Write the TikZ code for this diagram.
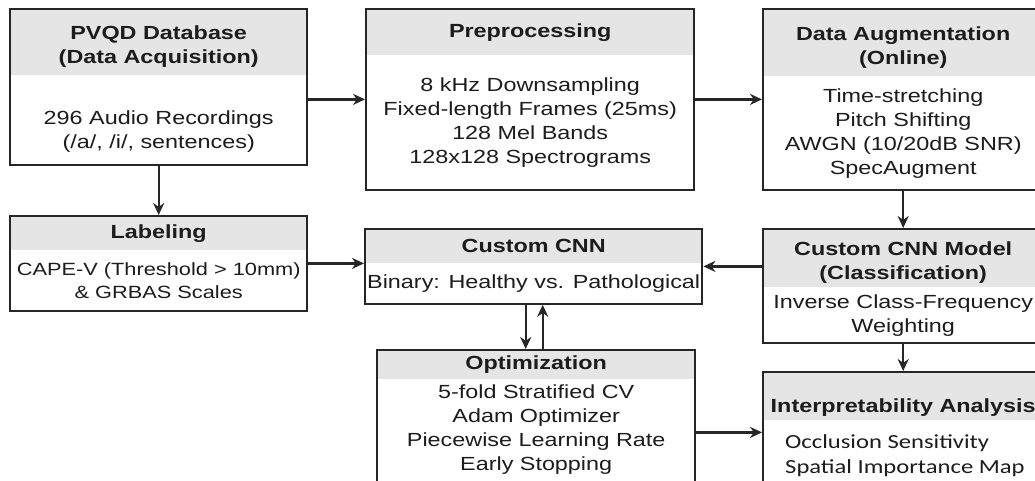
\documentclass[tikz,border=0pt]{standalone}
\usepackage{fontspec}
\setmainfont{Liberation Sans}[FakeStretch=1.23]
\newfontfamily\calfont{Carlito}[FakeStretch=1.23]
\usepackage{tikz}
\usetikzlibrary{arrows.meta,positioning,fit}
\definecolor{hdrgray}{RGB}{229,229,229}
\definecolor{edge}{RGB}{38,38,38}
\definecolor{ink}{RGB}{28,28,28}
\tikzset{
    hdr/.style={rectangle, fill=hdrgray, inner sep=0pt, anchor=north west,
                align=center, text=ink, font=\fontsize{19}{24}\selectfont\bfseries},
    bdy/.style={rectangle, fill=white, inner sep=0pt, align=center, text=ink,
                font=\fontsize{19}{24}\selectfont},
    frm/.style={rectangle, draw=edge, line width=2pt, inner sep=0pt},
    arr/.style={-{Stealth[length=12pt,width=11pt]}, line width=2.4pt, draw=edge},
}

\begin{document}
\begin{tikzpicture}[x=1pt, y=1pt]
    \useasboundingbox (0,0) rectangle (1035,480);
    \clip (0,0) rectangle (1035,480);
    \fill[white] (0,0) rectangle (1035,480);

    % top row
    \node[hdr, minimum width=297pt, minimum height=66pt, text height=47pt] (pvqd-h) at (10,471)
        {PVQD Database\\(Data Acquisition)};
    \node[bdy, minimum width=297pt, minimum height=89pt, text height=60pt,
          below=0pt of pvqd-h] (pvqd-b) {296 Audio Recordings\\(/a/, /i/, sentences)};
    \node[frm, fit=(pvqd-h)(pvqd-b)] (pvqd) {};

    \node[hdr, minimum width=328pt, minimum height=46pt] (prep-h) at (366,471) {Preprocessing};
    \node[bdy, minimum width=328pt, minimum height=134pt, below=0pt of prep-h] (prep-b)
        {8 kHz Downsampling\\Fixed-length Frames (25ms)\\128 Mel Bands\\128x128 Spectrograms};
    \node[frm, fit=(prep-h)(prep-b)] (prep) {};

    \node[hdr, minimum width=280pt, minimum height=67pt, text height=47pt] (aug-h) at (763,471)
        {Data Augmentation\\(Online)};
    \node[bdy, minimum width=280pt, minimum height=113pt, below=0pt of aug-h] (aug-b)
        {Time-stretching\\Pitch Shifting\\AWGN (10/20dB SNR)\\SpecAugment};
    \node[frm, fit=(aug-h)(aug-b)] (aug) {};

    % middle row
    \node[hdr, minimum width=297pt, minimum height=34pt] (lab-h) at (10,264) {Labeling};
    \node[bdy, minimum width=297pt, minimum height=60pt, font=\fontsize{17.7}{23}\selectfont,
          below=0pt of lab-h] (lab-b)
        {CAPE-V (Threshold > 10mm)\\\& GRBAS Scales};
    \node[frm, fit=(lab-h)(lab-b)] (lab) {};

    \node[hdr, minimum width=337pt, minimum height=34pt] (cnn-h) at (365,251) {Custom CNN};
    \node[bdy, minimum width=337pt, minimum height=40pt, below=0pt of cnn-h] (cnn-b)
        {Binary: Healthy vs. Pathological};
    \node[frm, fit=(cnn-h)(cnn-b)] (cnn) {};

    \node[hdr, minimum width=280pt, minimum height=58pt, text height=47pt] (mdl-h) at (763,251)
        {Custom CNN Model\\(Classification)};
    \node[bdy, minimum width=280pt, minimum height=55pt, below=0pt of mdl-h] (mdl-b)
        {Inverse Class-Frequency\\Weighting};
    \node[frm, fit=(mdl-h)(mdl-b)] (mdl) {};

    % bottom row
    \node[hdr, minimum width=318pt, minimum height=29pt] (opt-h) at (377,130) {Optimization};
    \node[bdy, minimum width=318pt, text height=91pt, text depth=25pt, below=0pt of opt-h] (opt-b)
        {5-fold Stratified CV\\Adam Optimizer\\Piecewise Learning Rate\\Early Stopping};
    \node[frm, fit=(opt-h)(opt-b)] (opt) {};

    \node[hdr, minimum width=280pt, minimum height=48pt, text height=36pt] (int-h) at (763,108)
        {Interpretability Analysis};
    \node[bdy, minimum width=280pt, align=left, inner xsep=22pt, text height=53pt, text depth=19pt,
          font=\calfont\fontsize{20}{25}\selectfont,
          below=0pt of int-h.south west, anchor=north west] (int-b)
        {Occlusion Sensitivity\\Spatial Importance Map};
    \node[frm, fit=(int-h)(int-b)] (int) {};

    \draw[arr] (prep.west -| pvqd.east) -- (prep.west);
    \draw[arr] (prep.east) -- (aug.west);
    \draw[arr] (pvqd.south) -- (lab.north);
    \draw[arr] (aug.south) -- (mdl.north);
    \draw[arr] (lab.east) -- (lab.east -| cnn.west);
    \draw[arr] (mdl.west |- cnn.east) -- (cnn.east);
    \draw[arr] (mdl.south) -- (mdl.south |- int.north);
    \draw[arr] ([xshift=-8pt]cnn.south) -- ([xshift=-8pt]cnn.south |- opt.north);
    \draw[arr] ([xshift=9pt]cnn.south |- opt.north) -- ([xshift=9pt]cnn.south);
    \draw[arr] (opt.east |- int.west) -- (int.west);
\end{tikzpicture}
\end{document}
